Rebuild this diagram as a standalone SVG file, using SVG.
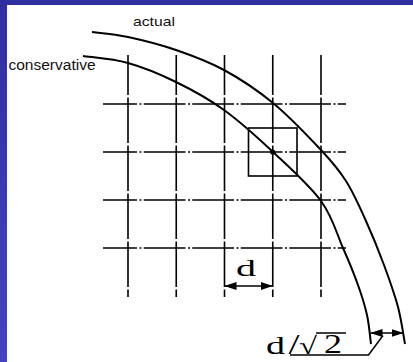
<svg xmlns="http://www.w3.org/2000/svg" width="413" height="362" viewBox="0 0 413 362">
  <style>
    .grid { stroke: #000; stroke-width: 1.6; fill: none; }
    .vl { stroke-dasharray: 45.5 2.5; stroke-dashoffset: 5.5; }
    .hl { stroke-dasharray: 41.75 2.5 2 2.25; stroke-dashoffset: 7.75; }
    .curve { stroke: #000; stroke-width: 2; fill: none; }
    .thin { stroke: #000; stroke-width: 1.5; fill: none; }
    .sans { font-family: "Liberation Sans", Arial, sans-serif; fill: #111; }
    .serif { font-family: "Liberation Serif", "Times New Roman", serif; fill: #000; }
  </style>
  <defs>
    <linearGradient id="bg" x1="0" y1="0" x2="0" y2="1">
      <stop offset="0" stop-color="#2f2fa0"/>
      <stop offset="1" stop-color="#4343c0"/>
    </linearGradient>
    <marker id="ah" viewBox="0 0 12 8" refX="12" refY="4" markerWidth="12" markerHeight="8" markerUnits="userSpaceOnUse" orient="auto-start-reverse">
      <path d="M0,0 L12,4 L0,8 Z" fill="#000"/>
    </marker>
  </defs>

  <rect x="0" y="0" width="413" height="362" fill="url(#bg)"/>
  <rect x="7" y="5" width="406" height="357" fill="#ffffff"/>

  <g id="grid">
    <line class="grid vl" x1="128" y1="55" x2="128" y2="297"/>
    <line class="grid vl" x1="176.25" y1="55" x2="176.25" y2="297"/>
    <line class="grid vl" x1="224.5" y1="55" x2="224.5" y2="297"/>
    <line class="grid vl" x1="272.75" y1="55" x2="272.75" y2="297"/>
    <line class="grid vl" x1="321" y1="55" x2="321" y2="297"/>
    <line class="grid hl" x1="103" y1="104" x2="346" y2="104"/>
    <line class="grid hl" x1="103" y1="152" x2="346" y2="152"/>
    <line class="grid hl" x1="103" y1="200" x2="346" y2="200"/>
    <line class="grid hl" x1="103" y1="248" x2="346" y2="248"/>
  </g>

  <g id="cell">
    <rect class="grid" x="248.5" y="128" width="48.5" height="48"/>
    <circle cx="272.75" cy="152" r="2.6" fill="#000"/>
  </g>

  <g id="actual-curve">
    <path class="curve" d="M92,32 C98,32.8 114,34 128,37 C142,40 160,44.5 176,50 C192,55.5 207.8,61.2 224,70 C240.2,78.8 256.8,89.7 273,103 C289.2,116.3 308.8,137 321,150 C333.2,163 338.5,169.2 346,181 C353.5,192.8 359.7,207 366,221 C372.3,235 378.7,250.7 384,265 C389.3,279.3 394.5,293.8 398,307 C401.5,320.2 403.8,337.8 405,344"/>
    <text class="sans" x="133" y="26" font-size="13" textLength="42" lengthAdjust="spacingAndGlyphs">actual</text>
  </g>

  <g id="conservative-curve">
    <path class="curve" d="M83,56 C90.5,57.2 112.5,58.7 128,63 C143.5,67.3 160,74.2 176,82 C192,89.8 207.8,98.3 224,110 C240.2,121.7 256.8,136.8 273,152 C289.2,167.2 309.3,185 321,201 C332.7,217 336.8,234 343,248 C349.2,262 354,273.8 358,285 C362,296.2 364.8,305.2 367,315 C369.2,324.8 370.3,339.2 371,344"/>
    <text class="sans" x="8.5" y="70" font-size="14" textLength="87" lengthAdjust="spacingAndGlyphs">conservative</text>
  </g>

  <g id="connectors">
    <line class="thin" x1="224.5" y1="286" x2="272.75" y2="286" marker-start="url(#ah)" marker-end="url(#ah)"/>
    <line class="thin" x1="370.5" y1="333" x2="403.5" y2="333" marker-start="url(#ah)" marker-end="url(#ah)"/>
    <polyline class="thin" points="290,355 368.5,355 383,335.5"/>
    <line class="thin" x1="316" y1="333" x2="346" y2="333"/>
  </g>

  <g id="label-d">
    <text class="serif" x="236" y="276" font-size="23" textLength="20" lengthAdjust="spacingAndGlyphs">d</text>
  </g>

  <g id="label-d-sqrt2">
    <text class="serif" x="266" y="354" font-size="26" textLength="19" lengthAdjust="spacingAndGlyphs">d</text>
    <text class="serif" x="288.5" y="354" font-size="29" textLength="11" lengthAdjust="spacingAndGlyphs">/</text>
    <text class="serif" x="299" y="354" font-size="24" textLength="18" lengthAdjust="spacingAndGlyphs">√</text>
    <text class="serif" x="324" y="353" font-size="28" textLength="18" lengthAdjust="spacingAndGlyphs">2</text>
  </g>
</svg>
